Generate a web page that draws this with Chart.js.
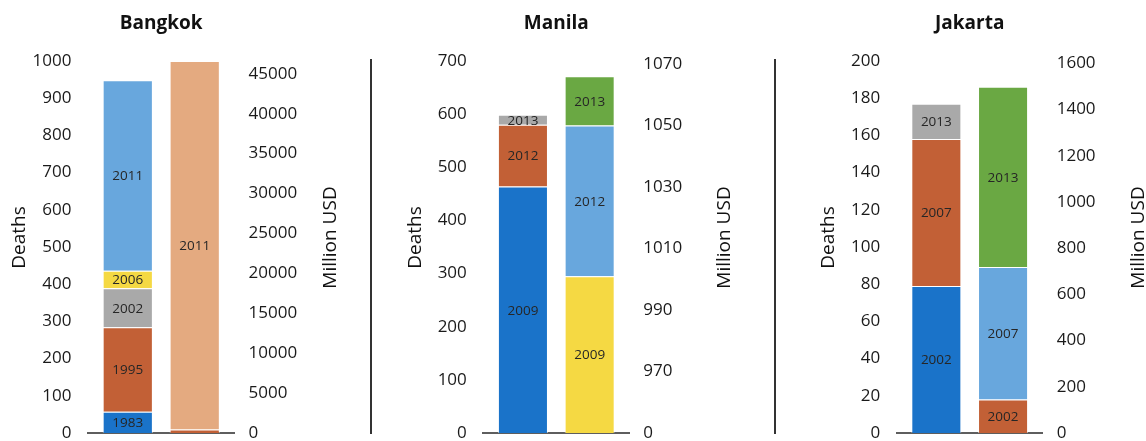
<!DOCTYPE html>
<html>
<head>
<meta charset="utf-8">
<script src="https://cdn.jsdelivr.net/npm/chart.js@4.4.1/dist/chart.umd.min.js"></script>
<style>
  html, body { margin: 0; padding: 0; background: #ffffff; }
  #wrap { position: relative; width: 1146px; height: 441px; overflow: hidden; }
  #wrap canvas { position: absolute; top: 0; }
  .sep { position: absolute; top: 59px; width: 2px; height: 375px; background: #333333; }
</style>
</head>
<body>
<div id="wrap">
  <canvas id="bangkok" width="350" height="441" style="left:0px;width:350px;height:441px"></canvas>
  <canvas id="manila" width="380" height="441" style="left:380px;width:380px;height:441px"></canvas>
  <canvas id="jakarta" width="356" height="441" style="left:790px;width:356px;height:441px"></canvas>
  <div class="sep" style="left:370px"></div>
  <div class="sep" style="left:774px"></div>
</div>
<script>
// ---------------- DATA ----------------
const panelTitles = ['Bangkok', 'Manila', 'Jakarta'];
const leftAxisTitle = 'Deaths';
const rightAxisTitle = 'Million USD';

// Bangkok
const bangkokDeathYears = ['1983', '1995', '2002', '2006', '2011'];
const bangkokDeaths = [57, 227, 105, 47, 512];
const bangkokLossYears = ['1995', '2011'];
const bangkokLosses = [430, 46170];
const bangkokDeathTicks = [0, 100, 200, 300, 400, 500, 600, 700, 800, 900, 1000];
const bangkokDeathTickLabels = ['0', '100', '200', '300', '400', '500', '600', '700', '800', '900', '1000'];
const bangkokLossTicks = [0, 5000, 10000, 15000, 20000, 25000, 30000, 35000, 40000, 45000];
const bangkokLossTickLabels = ['0', '5000', '10000', '15000', '20000', '25000', '30000', '35000', '40000', '45000'];
const bangkokDeathRange = [0, 1000];
const bangkokLossRange = [0, 46600];

// Manila
const manilaDeathYears = ['2009', '2012', '2013'];
const manilaDeaths = [464, 116, 19];
const manilaLossYears = ['2009', '2012', '2013'];
const manilaLosses = [1001, 49, 16];
const manilaDeathTicks = [0, 100, 200, 300, 400, 500, 600, 700];
const manilaDeathTickLabels = ['0', '100', '200', '300', '400', '500', '600', '700'];
const manilaLossTicks = [950, 970, 990, 1010, 1030, 1050, 1070];
const manilaLossTickLabels = ['0', '970', '990', '1010', '1030', '1050', '1070'];
const manilaDeathRange = [0, 700];
const manilaLossRange = [950, 1071];

// Jakarta
const jakartaDeathYears = ['2002', '2007', '2013'];
const jakartaDeaths = [79, 79, 19];
const jakartaLossYears = ['2002', '2007', '2013'];
const jakartaLosses = [145, 573, 781];
const jakartaDeathTicks = [0, 20, 40, 60, 80, 100, 120, 140, 160, 180, 200];
const jakartaDeathTickLabels = ['0', '20', '40', '60', '80', '100', '120', '140', '160', '180', '200'];
const jakartaLossTicks = [0, 200, 400, 600, 800, 1000, 1200, 1400, 1600];
const jakartaLossTickLabels = ['0', '200', '400', '600', '800', '1000', '1200', '1400', '1600'];
const jakartaDeathRange = [0, 200];
const jakartaLossRange = [0, 1610];

// ---------------- STYLE ----------------
const C = {
  darkBlue: '#1a73c9',
  orangeRed: '#c26036',
  gray: '#a9a9a9',
  yellow: '#f5d943',
  lightBlue: '#68a7dd',
  lightOrange: '#e4aa80',
  green: '#6aa843'
};
const FONT = '"Open Sans", "DejaVu Sans", sans-serif';

const segLabels = {
  id: 'segLabels',
  afterDatasetsDraw(chart) {
    const { ctx, chartArea } = chart;
    ctx.save();
    ctx.font = '13.5px ' + FONT;
    ctx.fillStyle = '#262626';
    ctx.textAlign = 'center';
    ctx.textBaseline = 'middle';
    chart.data.datasets.forEach((ds, i) => {
      const meta = chart.getDatasetMeta(i);
      meta.data.forEach(bar => {
        const p = bar.getProps(['x', 'y', 'base'], true);
        const top = Math.max(Math.min(p.y, p.base), chartArea.top);
        const bottom = Math.min(Math.max(p.y, p.base), chartArea.bottom);
        if (bottom - top < 6) return;
        ctx.fillText(ds.label, p.x, (top + bottom) / 2 + 1);
      });
    });
    ctx.restore();
  }
};

const panelText = {
  id: 'panelText',
  afterDraw(chart, args, opts) {
    const { ctx, chartArea } = chart;
    ctx.save();
    ctx.fillStyle = '#111111';
    ctx.textAlign = 'center';
    ctx.textBaseline = 'alphabetic';
    ctx.font = 'bold 19px ' + FONT;
    ctx.fillText(opts.title, (chartArea.left + chartArea.right) / 2, 28.5);
    ctx.font = '19px ' + FONT;
    const cy = 237.5;
    ctx.save();
    ctx.translate(chartArea.left - 62.8, cy);
    ctx.rotate(-Math.PI / 2);
    ctx.fillText(opts.leftTitle, 0, 0);
    ctx.restore();
    ctx.save();
    ctx.translate(chartArea.right + 101, cy);
    ctx.rotate(-Math.PI / 2);
    ctx.fillText(opts.rightTitle, 0, 0);
    ctx.restore();
    ctx.restore();
  }
};

function makeDatasets(years, values, colors, stack, axis) {
  return years.map((yr, i) => ({
    label: yr,
    data: [values[i]],
    backgroundColor: colors[i],
    borderColor: 'rgba(255,255,255,0.55)',
    borderWidth: { top: 1, left: 1, right: 1, bottom: 0 },
    borderSkipped: false,
    stack: stack,
    yAxisID: axis
  }));
}

function yAxis(position, range, ticks, tickLabels, width, pad) {
  return {
    type: 'linear',
    position: position,
    stacked: true,
    min: range[0],
    max: range[1],
    grid: { display: false, drawTicks: false },
    border: { display: false },
    ticks: {
      padding: pad,
      color: '#1a1a1a',
      font: { family: FONT, size: 17 },
      callback: (v) => {
        const k = ticks.indexOf(v);
        return k >= 0 ? tickLabels[k] : '';
      }
    },
    afterBuildTicks: (scale) => { scale.ticks = ticks.map(v => ({ value: v })); },
    afterFit: (scale) => { scale.width = width; scale.paddingTop = 0; scale.paddingBottom = 0; }
  };
}

function makeChart(id, title, deathYears, deaths, deathColors, lossYears, losses, lossColors,
                   deathRange, deathTicks, deathTickLabels, lossRange, lossTicks, lossTickLabels,
                   leftW, rightW) {
  const datasets = makeDatasets(deathYears, deaths, deathColors, 'deaths', 'y')
    .concat(makeDatasets(lossYears, losses, lossColors, 'loss', 'y1'));
  return new Chart(document.getElementById(id), {
    type: 'bar',
    data: { labels: [''], datasets: datasets },
    options: {
      responsive: false,
      animation: false,
      events: [],
      layout: { padding: { top: 61, bottom: 8, left: 0, right: 0 } },
      barPercentage: 0.75,
      categoryPercentage: 0.914,
      plugins: {
        legend: { display: false },
        title: { display: false },
        tooltip: { enabled: false },
        panelText: { title: title, leftTitle: leftAxisTitle, rightTitle: rightAxisTitle }
      },
      scales: {
        x: {
          type: 'category',
          stacked: true,
          grid: { display: false, drawTicks: false },
          border: { display: true, color: '#5e5e5e', width: 2 },
          ticks: { display: false },
          afterFit: (scale) => { scale.height = 0; scale.paddingLeft = 0; scale.paddingRight = 0; }
        },
        y: yAxis('left', deathRange, deathTicks, deathTickLabels, leftW, 16.5),
        y1: yAxis('right', lossRange, lossTicks, lossTickLabels, rightW, 14)
      }
    },
    plugins: [segLabels, panelText]
  });
}

makeChart('bangkok', panelTitles[0],
  bangkokDeathYears, bangkokDeaths, [C.darkBlue, C.orangeRed, C.gray, C.yellow, C.lightBlue],
  bangkokLossYears, bangkokLosses, [C.orangeRed, C.lightOrange],
  bangkokDeathRange, bangkokDeathTicks, bangkokDeathTickLabels,
  bangkokLossRange, bangkokLossTicks, bangkokLossTickLabels,
  88, 115.5);

makeChart('manila', panelTitles[1],
  manilaDeathYears, manilaDeaths, [C.darkBlue, C.orangeRed, C.gray],
  manilaLossYears, manilaLosses, [C.yellow, C.lightBlue, C.green],
  manilaDeathRange, manilaDeathTicks, manilaDeathTickLabels,
  manilaLossRange, manilaLossTicks, manilaLossTickLabels,
  103.3, 130.7);

makeChart('jakarta', panelTitles[2],
  jakartaDeathYears, jakartaDeaths, [C.darkBlue, C.orangeRed, C.gray],
  jakartaLossYears, jakartaLosses, [C.orangeRed, C.lightBlue, C.green],
  jakartaDeathRange, jakartaDeathTicks, jakartaDeathTickLabels,
  jakartaLossRange, jakartaLossTicks, jakartaLossTickLabels,
  106.7, 103.3);
</script>
</body>
</html>
